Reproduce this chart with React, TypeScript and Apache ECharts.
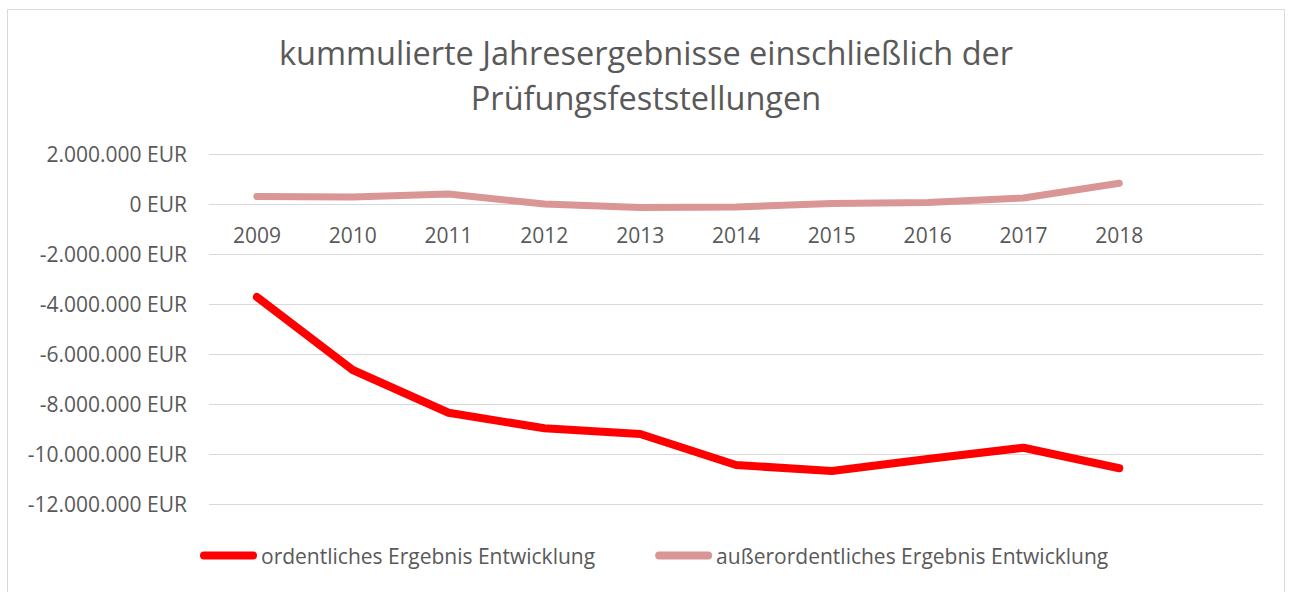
import React, { useEffect, useRef } from "react";
import * as echarts from "echarts";

const years = ["2009", "2010", "2011", "2012", "2013", "2014", "2015", "2016", "2017", "2018"];
const ordentlich = [-3720000, -6640000, -8350000, -8970000, -9200000, -10440000, -10680000, -10200000, -9750000, -10570000];
const ausserordentlich = [300000, 280000, 400000, 0, -140000, -120000, 20000, 60000, 240000, 830000];
const seriesNames = ["ordentliches Ergebnis Entwicklung", "außerordentliches Ergebnis Entwicklung"];
const titleLines = ["kummulierte Jahresergebnisse einschließlich der", "Prüfungsfeststellungen"];

const FONT = "'Open Sans', sans-serif";
const TEXT = "#595959";

function fmt(v: number): string {
  const s = Math.abs(v).toString().replace(/\B(?=(\d{3})+(?!\d))/g, ".");
  return (v < 0 ? "-" : "") + s + " EUR";
}

const capsule = "path://M4,0 L53,0 A4,4 0 0 1 53,8 L4,8 A4,4 0 0 1 4,0 Z";

export default function App() {
  const ref = useRef<HTMLDivElement>(null);
  useEffect(() => {
    document.body.style.margin = "0";
    if (!ref.current) return;
    const chart = echarts.init(ref.current, undefined, { renderer: "svg" });
    chart.setOption({
      animation: false,
      backgroundColor: "#ffffff",
      textStyle: { fontFamily: FONT },
      title: {
        text: titleLines.join("\n"),
        left: "center",
        top: 25,
        textStyle: { fontFamily: FONT, fontSize: 32.5, fontWeight: "normal", color: TEXT, lineHeight: 45 },
      },
      graphic: [
        {
          type: "rect",
          shape: { x: 7.5, y: 9.5, width: 1277, height: 600 },
          style: { fill: "none", stroke: "#D9D9D9", lineWidth: 1 },
          silent: true,
        },
      ],
      legend: {
        left: 200,
        top: 545,
        padding: 0,
        itemWidth: 57,
        itemHeight: 8,
        itemGap: 60,
        icon: capsule,
        textStyle: { fontFamily: FONT, fontSize: 21, color: TEXT, padding: [0, 0, 0, -1] },
        data: seriesNames,
      },
      grid: { left: 209, right: 29, top: 154, bottom: 88, containLabel: false },
      xAxis: {
        type: "category",
        data: [...years, ""],
        boundaryGap: true,
        offset: -300,
        axisTick: { show: false },
        axisLine: { show: true, onZero: false, lineStyle: { color: "#D9D9D9", width: 1 } },
        axisLabel: { fontFamily: FONT, fontSize: 21, color: TEXT, margin: 20 },
        splitLine: { show: false },
      },
      yAxis: {
        type: "value",
        min: -12000000,
        max: 2000000,
        interval: 2000000,
        axisLine: { show: false },
        axisTick: { show: false },
        axisLabel: { fontFamily: FONT, fontSize: 21, color: TEXT, margin: 22, formatter: (v: number) => fmt(v) },
        splitLine: { lineStyle: { color: "#D9D9D9", width: 1 } },
      },
      series: [
        {
          name: seriesNames[0],
          type: "line",
          data: ordentlich,
          symbol: "none",
          lineStyle: { color: "#FF0000", width: 8, cap: "round", join: "round" },
          itemStyle: { color: "#FF0000" },
          z: 3,
        },
        {
          name: seriesNames[1],
          type: "line",
          data: ausserordentlich,
          symbol: "none",
          lineStyle: { color: "#D99694", width: 7, cap: "round", join: "round" },
          itemStyle: { color: "#D99694" },
          z: 2,
        },
      ],
    });
    return () => chart.dispose();
  }, []);
  return <div ref={ref} style={{ width: 1292, height: 592 }} />;
}
